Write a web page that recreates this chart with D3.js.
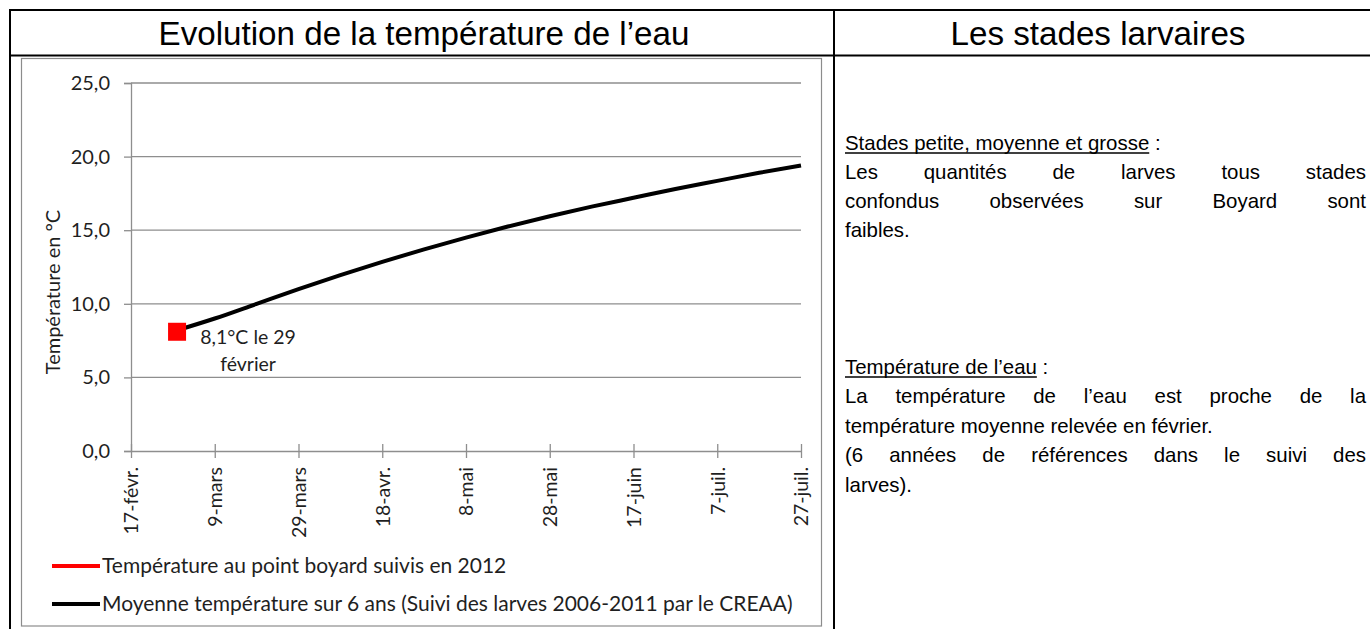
<!DOCTYPE html>
<html>
<head>
<meta charset="utf-8">
<script src="https://cdn.jsdelivr.net/npm/d3@7"></script>
<style>
  html, body { margin: 0; padding: 0; background: #fff; }
  svg { display: block; }
</style>
</head>
<body>
<svg id="page" width="1370" height="629"></svg>
<script>
// ---- data ---------------------------------------------------------------
// Date axis runs on a common-year calendar, one tick every 20 days.
const tickDates  = ["2011-02-17","2011-03-09","2011-03-29","2011-04-18","2011-05-08",
                    "2011-05-28","2011-06-17","2011-07-07","2011-07-27"];
const tickLabels = ["17-févr.","9-mars","29-mars","18-avr.","8-mai",
                    "28-mai","17-juin","7-juil.","27-juil."];
const yTicks = [0, 5, 10, 15, 20, 25];

// Mean water temperature, larval monitoring 2006-2011 (°C)
const meanDates  = ["2011-02-28","2011-03-09","2011-03-19","2011-03-29","2011-04-08",
                    "2011-04-18","2011-04-28","2011-05-08","2011-05-18","2011-05-28",
                    "2011-06-07","2011-06-17","2011-06-27","2011-07-07","2011-07-17",
                    "2011-07-27"];
const meanValues = [8.2, 9.0, 10.0, 11.0, 11.95, 12.85, 13.7, 14.5, 15.25, 15.95,
                    16.6, 17.2, 17.8, 18.35, 18.9, 19.4];

// 2012 reading at the Boyard point
const boyardDates  = ["2011-02-28"];
const boyardValues = [8.1];
const boyardLabel  = ["8,1°C le 29", "février"];

const legendLabels = ["Température au point boyard suivis en 2012",
                      "Moyenne température sur 6 ans (Suivi des larves 2006-2011 par le CREAA)"];

// ---- helpers ---------------------------------------------------------------
const svg = d3.select("#page");
const parse = d3.timeParse("%Y-%m-%d");
const headFont = "'Liberation Sans', Arial, sans-serif";
const chartFont = "Lato, 'Open Sans', sans-serif";

// scale a text's font size so that it spans the wanted width
function fitSize(family, text, width) {
  const probe = svg.append("text").attr("font-family", family).attr("font-size", 20).text(text);
  const w = probe.node().getComputedTextLength();
  probe.remove();
  return 20 * width / w;
}

// ---- page frame -----------------------------------------------------------
const frame = svg.append("g").attr("stroke", "#000").attr("stroke-width", 2);
frame.append("line").attr("x1", 9).attr("x2", 1372).attr("y1", 10).attr("y2", 10);
frame.append("line").attr("x1", 10).attr("x2", 10).attr("y1", 9).attr("y2", 640);
frame.append("line").attr("x1", 9).attr("x2", 1372).attr("y1", 55.5).attr("y2", 55.5);
frame.append("line").attr("x1", 834).attr("x2", 834).attr("y1", 9).attr("y2", 640);

const headSize = fitSize(headFont, "Evolution de la température de l’eau", 531);
svg.append("text").attr("x", 424).attr("y", 45).attr("text-anchor", "middle")
  .attr("font-family", headFont).attr("font-size", headSize)
  .text("Evolution de la température de l’eau");
svg.append("text").attr("x", 1098).attr("y", 45).attr("text-anchor", "middle")
  .attr("font-family", headFont).attr("font-size", headSize)
  .text("Les stades larvaires");

// ---- chart ----------------------------------------------------------------
svg.append("rect").attr("x", 21.5).attr("y", 58.5).attr("width", 800).attr("height", 567.5)
  .attr("fill", "#fff").attr("stroke", "#8c8c8c").attr("stroke-width", 1.2);

const plot = { left: 131, right: 801, top: 83, bottom: 451 };
const x = d3.scaleTime()
  .domain([parse(tickDates[0]), parse(tickDates[tickDates.length - 1])])
  .range([plot.left, plot.right]);
const y = d3.scaleLinear().domain([0, 25]).range([plot.bottom, plot.top]);
const fr = d3.formatLocale({ decimal: ",", thousands: " ", grouping: [3], currency: ["", "€"] });
const fmt = fr.format(".1f");
const gridColor = "#8e8e8e";
const labelColor = "#1f1f1f";

// horizontal gridlines
svg.append("g").selectAll("line").data(yTicks.filter(d => d > 0)).join("line")
  .attr("x1", plot.left).attr("x2", plot.right)
  .attr("y1", d => y(d)).attr("y2", d => y(d))
  .attr("stroke", gridColor).attr("stroke-width", 1.3);

// y axis
const yAxis = svg.append("g").attr("transform", `translate(${plot.left},0)`)
  .call(d3.axisLeft(y).tickValues(yTicks).tickFormat(fmt).tickSize(7).tickPadding(14));
yAxis.select(".domain").attr("stroke", gridColor).attr("stroke-width", 1.3);
yAxis.selectAll(".tick line").attr("stroke", gridColor).attr("stroke-width", 1.3);
yAxis.selectAll(".tick text").attr("font-family", chartFont).attr("font-size", 20).attr("fill", labelColor);

// x axis with crossing tick marks
const xDates = tickDates.map(parse);
const xAxis = svg.append("g").attr("transform", `translate(0,${plot.bottom})`)
  .call(d3.axisBottom(x).tickValues(xDates).tickSize(0).tickFormat((d, i) => tickLabels[i]));
xAxis.select(".domain").attr("stroke", gridColor).attr("stroke-width", 1.3);
xAxis.selectAll(".tick line").remove();
xAxis.selectAll(".tick").append("line")
  .attr("y1", -7).attr("y2", 7).attr("stroke", gridColor).attr("stroke-width", 1.3);
xAxis.selectAll(".tick text")
  .attr("font-family", chartFont).attr("font-size", 19.5).attr("fill", labelColor)
  .attr("text-anchor", "end").attr("transform", "rotate(-90)")
  .attr("x", -16).attr("y", 0).attr("dy", "0.35em");

// y axis title
svg.append("text").attr("transform", "translate(53,292) rotate(-90)")
  .attr("text-anchor", "middle").attr("dy", "0.35em")
  .attr("font-family", chartFont).attr("font-size", 20).attr("fill", labelColor)
  .text("Température en °C");

// six-year mean line
const meanData = meanDates.map((d, i) => ({ date: parse(d), value: meanValues[i] }));
svg.append("path").datum(meanData)
  .attr("fill", "none").attr("stroke", "#000").attr("stroke-width", 4)
  .attr("stroke-linejoin", "round")
  .attr("d", d3.line().x(d => x(d.date)).y(d => y(d.value)).curve(d3.curveMonotoneX));

// 2012 point
const boyardData = boyardDates.map((d, i) => ({ date: parse(d), value: boyardValues[i] }));
const sq = 18;
svg.append("g").selectAll("rect").data(boyardData).join("rect")
  .attr("x", d => x(d.date) - sq / 2).attr("y", d => y(d.value) - sq / 2)
  .attr("width", sq).attr("height", sq).attr("fill", "#ff0000");
const lbl = svg.append("text").attr("font-family", chartFont).attr("font-size", 19.5)
  .attr("fill", labelColor).attr("text-anchor", "middle");
boyardData.forEach(d => {
  boyardLabel.forEach((t, i) => {
    lbl.append("tspan").attr("x", x(d.date) + 71).attr("y", y(d.value) + 12 + i * 27).text(t);
  });
});

// legend
const legendColors = ["#ff0000", "#000000"];
const leg = svg.append("g");
legendLabels.forEach((t, i) => {
  const ly = 566 + i * 38;
  leg.append("line").attr("x1", 52).attr("x2", 100).attr("y1", ly).attr("y2", ly)
    .attr("stroke", legendColors[i]).attr("stroke-width", 4);
  leg.append("text").attr("x", 102).attr("y", ly).attr("dy", "0.35em")
    .attr("font-family", chartFont).attr("font-size", 21).attr("fill", labelColor).text(t);
});

// ---- right-hand notes -------------------------------------------------------
const noteX = 845, noteRight = 1366;
const noteSize = fitSize(headFont, "température moyenne relevée en février.", 368);
const notes = [
  { y: 143, parts: [["Stades petite, moyenne et grosse", true], [" :", false]] },
  { y: 172, text: "Les quantités de larves tous stades", justify: true },
  { y: 201, text: "confondus observées sur Boyard sont", justify: true },
  { y: 230, text: "faibles." },
  { y: 367, parts: [["Température de l’eau", true], [" :", false]] },
  { y: 396, text: "La température de l’eau est proche de la", justify: true },
  { y: 426, text: "température moyenne relevée en février." },
  { y: 455, text: "(6 années de références dans le suivi des", justify: true },
  { y: 485, text: "larves)." }
];
const ng = svg.append("g").attr("font-family", headFont).attr("font-size", noteSize).attr("fill", "#000");
notes.forEach(n => {
  const base = n.y + 7;
  if (n.parts) {
    let cx = noteX;
    n.parts.forEach(([t, ul]) => {
      const el = ng.append("text").attr("x", cx).attr("y", base).attr("xml:space", "preserve").text(t);
      const w = el.node().getComputedTextLength();
      if (ul) ng.append("line").attr("x1", cx).attr("x2", cx + w)
        .attr("y1", base + 3).attr("y2", base + 3).attr("stroke", "#000").attr("stroke-width", 1.5);
      cx += w;
    });
  } else if (n.justify) {
    const words = n.text.split(" ");
    const els = words.map(w => ng.append("text").attr("y", base).text(w));
    const widths = els.map(e => e.node().getComputedTextLength());
    const gap = (noteRight - noteX - d3.sum(widths)) / (words.length - 1);
    let cx = noteX;
    els.forEach((e, i) => { e.attr("x", cx); cx += widths[i] + gap; });
  } else {
    ng.append("text").attr("x", noteX).attr("y", base).text(n.text);
  }
});
</script>
</body>
</html>
